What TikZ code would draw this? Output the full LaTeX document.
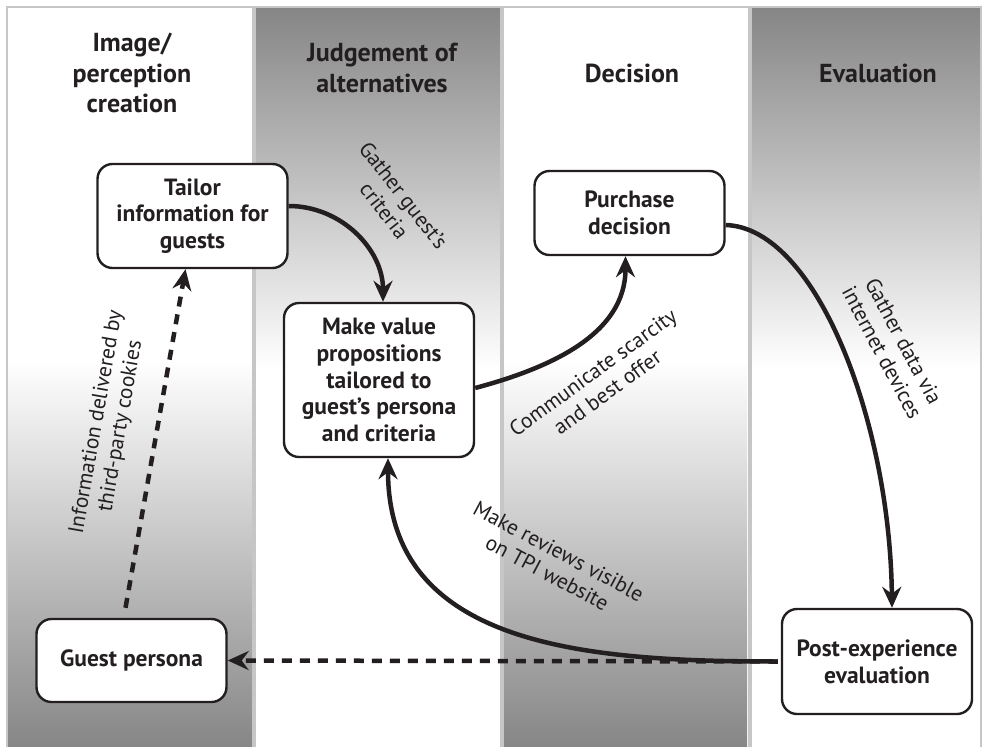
\documentclass[tikz,border=0pt]{standalone}
\usepackage{fontspec}
\setmainfont{PT Sans}
\usetikzlibrary{arrows.meta}
\definecolor{darkband}{RGB}{134,134,134}
\definecolor{sepgray}{RGB}{198,198,198}
\definecolor{ink}{RGB}{35,31,32}
\begin{document}
\begin{tikzpicture}[x=1pt,y=-1pt,
  box/.style={draw=ink, line width=2.4pt, rounded corners=15pt, fill=white,
    align=center, inner sep=0pt, minimum width=190pt, text=ink,
    font=\bfseries\fontsize{23.5}{26.8}\selectfont},
  header/.style={align=center, inner sep=0pt, text=ink,
    font=\bfseries\fontsize{26}{30.5}\selectfont},
  edgelabel/.style={align=center, inner sep=0pt, text=ink,
    font=\fontsize{21.5}{24.5}\selectfont},
  flow/.style={line width=4.5pt, draw=ink,
    -{Stealth[length=21pt,width=19pt,inset=7pt]}},
  dashflow/.style={flow, dash pattern=on 10pt off 8pt},
]
\useasboundingbox (0,0) rectangle (988,747);
\fill[white] (0,0) rectangle (988,747);
% columns
\fill[white] (8,8) rectangle (252,360);
\shade[top color=white, bottom color=darkband] (8,360) rectangle (252,747);
\shade[top color=darkband, bottom color=white] (256,8) rectangle (500,370);
\fill[white] (256,370) rectangle (500,747);
\fill[white] (504,8) rectangle (747,360);
\shade[top color=white, bottom color=darkband] (504,360) rectangle (747,747);
\shade[top color=darkband, bottom color=white] (752,8) rectangle (980,370);
\fill[white] (752,370) rectangle (980,747);
% separators and frame
\draw[sepgray, line width=4pt] (254,8) -- (254,747);
\draw[sepgray, line width=4pt] (502,8) -- (502,747);
\draw[sepgray, line width=4pt] (749.5,8) -- (749.5,747);
\draw[sepgray, line width=2pt] (7,748) -- (7,7) -- (981,7) -- (981,748);

% headers
\node[header] (h1) at (132,73) {Image/\\perception\\creation};
\node[header] (h2) at (382,68) {Judgement of\\alternatives};
\node[header] (h3) at (632,73) {Decision};
\node[header] (h4) at (878,73) {Evaluation};

% boxes
\node[box, minimum height=104pt] (tailor) at (192.5,216) {Tailor\\information for\\guests};
\node[box, minimum height=154pt] (value) at (379,380) {Make value\\propositions\\tailored to\\guest’s persona\\and criteria};
\node[box, minimum height=84pt] (purchase) at (629.5,213) {Purchase\\decision};
\node[box, minimum height=83pt] (guest) at (131.5,660.5) {Guest persona};
\node[box, minimum height=105pt] (post) at (877,661.5) {Post-experience\\evaluation};

% connectors
\draw[flow] ([yshift=10pt]tailor.east) to[out=0, in=90] ([xshift=4pt]value.north);
\draw[flow] ([yshift=-8pt]value.east) to[out=15, in=-90] ([xshift=-4pt]purchase.south);
\draw[flow] ([yshift=-12pt]purchase.east) .. controls +(91,3) and +(-2,-185) .. ([xshift=15pt]post.north);
\draw[flow] ([xshift=-3pt]post.west) to[out=180, in=-90, looseness=1.1] ([xshift=9pt]value.south);
\draw[dashflow] ([xshift=-3pt]post.west) -- (guest.east);
\draw[dashflow] ([xshift=-6pt,yshift=10pt]guest.north) -- ([xshift=-7pt]tailor.south);

% connector labels
\node[edgelabel, rotate=-52] (l1) at (394,203) {Gather guest’s\\criteria};
\node[edgelabel, rotate=36] (l2) at (600,382) {Communicate scarcity\\and best offer};
\node[edgelabel, rotate=-62] (l3) at (893,347) {Gather data via\\internet devices};
\node[edgelabel, rotate=-28] (l4) at (553,562) {Make reviews visible\\on TPI website};
\node[edgelabel, rotate=80] (l5) at (109,424) {Information delivered by\\third-party cookies};
\end{tikzpicture}
\end{document}
